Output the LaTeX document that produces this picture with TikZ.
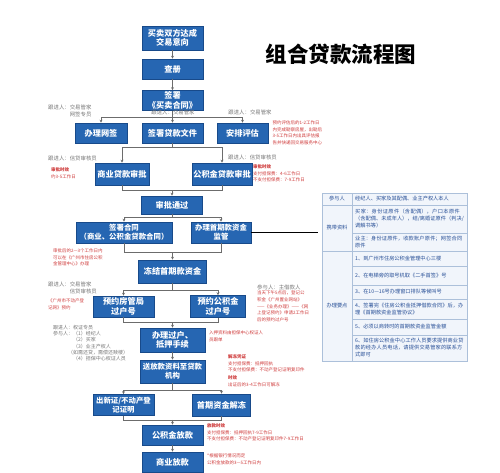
\documentclass[tikz,border=0pt]{standalone}
\usepackage{fontspec}
\setmainfont{Noto Sans CJK SC}
\XeTeXlinebreaklocale "zh"
\XeTeXlinebreakskip = 0pt plus 1pt
\usetikzlibrary{arrows.meta,positioning}
\definecolor{boxblue}{RGB}{38,102,178}
\definecolor{boxedge}{RGB}{24,74,138}
\definecolor{notered}{RGB}{206,58,58}
\definecolor{leadgray}{RGB}{118,118,118}
\definecolor{tblblue}{RGB}{38,78,150}
\definecolor{tblline}{RGB}{172,192,218}
\definecolor{tblfill}{RGB}{241,245,251}
\tikzset{
  flowbox/.style={draw=boxedge, fill=boxblue, text=white, align=center,
    font=\fontsize{8.2}{9.6}\selectfont\bfseries, inner sep=0pt, line width=0.6pt},
  smallbox/.style={flowbox, font=\fontsize{7.4}{9}\selectfont\bfseries},
  link/.style={draw=gray!85!black, line width=0.6pt},
  linkarr/.style={link, -{Stealth[length=3pt,width=3pt]}},
  lead/.style={text=leadgray, font=\fontsize{5.4}{6.6}\selectfont, align=left, inner sep=0pt},
  note/.style={text=notered, font=\fontsize{4.5}{6.6}\selectfont, align=left, inner sep=0pt},
  cell/.style={draw=tblline, fill=tblfill, line width=0.5pt},
  celltext/.style={text=tblblue, font=\fontsize{5.2}{7}\selectfont, align=left,
    inner sep=0pt, anchor=west, text width=109pt},
  cellhead/.style={text=tblblue, font=\fontsize{5.2}{7}\selectfont, inner sep=0pt}
}
\begin{document}
\begin{tikzpicture}[x=1pt, y=-1pt]
\useasboundingbox (0,0) rectangle (500,473);
\node[font=\fontsize{21.5}{24}\selectfont\bfseries] (title) at (341,54) {组合贷款流程图};
% main column
\node[flowbox, minimum width=61pt, minimum height=24pt] (deal) at (172.5,38) {买卖双方达成\\交易意向};
\node[flowbox, minimum width=61pt, minimum height=20pt] (chace) at (172.5,69) {查册};
\node[flowbox, minimum width=61pt, minimum height=20pt] (sign) at (172.5,100.5) {签署\\《买卖合同》};
\node[flowbox, minimum width=52pt, minimum height=20pt] (wangqian) at (101,133) {办理网签};
\node[flowbox, minimum width=61pt, minimum height=20pt] (daikuan) at (172.5,133) {签署贷款文件};
\node[flowbox, minimum width=51pt, minimum height=20pt] (pinggu) at (242.5,133) {安排评估};
\node[flowbox, minimum width=54pt, minimum height=22pt] (shangdai) at (122,174) {商业贷款审批};
\node[flowbox, minimum width=60pt, minimum height=22pt] (gjjdai) at (222,174) {公积金贷款审批};
\node[flowbox, minimum width=61pt, minimum height=18pt] (pass) at (172,205) {审批通过};
\node[smallbox, minimum width=96pt, minimum height=21pt] (hetong) at (124,232.5) {签署合同\\（商业、公积金贷款合同）};
\node[smallbox, minimum width=60pt, minimum height=21pt] (jianguan) at (221,232.5) {办理首期款资金\\监管};
\node[flowbox, minimum width=68pt, minimum height=23pt] (dongjie) at (172.5,271.5) {冻结首期款资金};
\node[flowbox, minimum width=61pt, minimum height=21pt] (fangguan) at (123.5,306.5) {预约房管局\\过户号};
\node[flowbox, minimum width=55pt, minimum height=22pt] (gjjguohu) at (218,306.5) {预约公积金\\过户号};
\node[flowbox, minimum width=65pt, minimum height=24pt] (guohu) at (172.5,340) {办理过户、\\抵押手续};
\node[smallbox, minimum width=65pt, minimum height=23pt] (song) at (172.5,371.5) {送放款资料至贷款\\机构};
\node[smallbox, minimum width=61pt, minimum height=21pt] (xinzheng) at (123.5,405) {出新证/不动产登\\记证明};
\node[flowbox, minimum width=58pt, minimum height=22pt] (jiedong) at (221.5,405) {首期资金解冻};
\node[flowbox, minimum width=61pt, minimum height=20pt] (gjjfk) at (172.5,435) {公积金放款};
\node[flowbox, minimum width=61pt, minimum height=20pt] (syfk) at (172.5,462) {商业放款};
% connectors
\draw[linkarr] (deal) -- (chace);
\draw[linkarr] (chace) -- (sign);
\draw[link] (sign.south) -- ++(0,6.5) coordinate (split1);
\draw[link] (split1 -| wangqian) -- (split1 -| pinggu);
\draw[linkarr] (split1 -| wangqian) -- (wangqian);
\draw[linkarr] (split1) -- (daikuan);
\draw[linkarr] (split1 -| pinggu) -- (pinggu);
\draw[link] (daikuan.south) -- ++(0,4) coordinate (merge1);
\draw[link] (merge1 -| shangdai) -- (merge1 -| gjjdai);
\draw[linkarr] (merge1 -| shangdai) -- (shangdai);
\draw[linkarr] (merge1 -| gjjdai) -- (gjjdai);
\draw[link] (shangdai.south) -- ++(0,5) coordinate (merge2) -- (merge2 -| gjjdai) -- (gjjdai.south);
\draw[linkarr] (merge2 -| pass) -- (pass);
\draw[link] (pass.south) -- ++(0,3) coordinate (split3);
\draw[link] (split3 -| hetong) -- (split3 -| jianguan);
\draw[linkarr] (split3 -| hetong) -- (hetong);
\draw[linkarr] (split3 -| jianguan) -- (jianguan);
\draw[link] (hetong.south) -- ++(0,9) coordinate (merge4) -- (merge4 -| jianguan) -- (jianguan.south);
\draw[linkarr] (merge4 -| dongjie) -- (dongjie);
\draw[link] (dongjie.south) -- ++(0,7) coordinate (split5);
\draw[link] (split5 -| fangguan) -- (split5 -| gjjguohu);
\draw[linkarr] (split5 -| fangguan) -- (fangguan);
\draw[linkarr] (split5 -| gjjguohu) -- (gjjguohu);
\draw[link] (fangguan.south) -- ++(0,5) coordinate (merge6) -- (merge6 -| gjjguohu) -- (gjjguohu.south);
\draw[linkarr] (merge6 -| guohu) -- (guohu);
\draw[linkarr] (guohu) -- (song);
\draw[link] (song.south) -- ++(0,7) coordinate (split7);
\draw[link] (split7 -| xinzheng) -- (split7 -| jiedong);
\draw[linkarr] (split7 -| xinzheng) -- (xinzheng);
\draw[linkarr] (split7 -| jiedong) -- (jiedong);
\draw[link] (xinzheng.south) -- ++(0,4) coordinate (merge8) -- (merge8 -| jiedong) -- (jiedong.south);
\draw[linkarr] (merge8 -| gjjfk) -- (gjjfk);
\draw[linkarr] (gjjfk) -- (syfk);
% follow-up people
\node[lead, anchor=north west] (leadwq) at (48,105) {跟进人：交易管家\\\phantom{跟进人：}网签专员};
\node[lead] (leaddk) at (173,112.5) {跟进人：交易管家};
\node[lead] (leadpg) at (250,112) {跟进人：交易管家};
\node[lead, anchor=west] (leadsd) at (48,158) {跟进人：信贷审核员};
\node[lead, anchor=west] (leadgd) at (228,157) {跟进人：信贷审核员};
\node[lead, anchor=north west] (leadyy) at (48,282) {跟进人：交易管家\\\phantom{跟进人：}信贷审核员};
\node[lead, anchor=west] (leadzj) at (257,287) {参与人：主借款人};
\node[lead, anchor=north west, font=\fontsize{5}{6.2}\selectfont] (leadgh) at (53,325)
  {跟进人：权证专员\\参与人：（1）经纪人\\\phantom{参与人：}（2）买家\\\phantom{参与人：}（3）业主产权人\\\phantom{参与人}（如需还贷，需偿还赎楼）\\\phantom{参与人：}（4）担保中心权证人员};
% red notes
\node[note, right=4pt of pinggu] (notepg) {预约评估后的1-2工作日\\内完成勘察房屋，出勘后\\3-5工作日内出具评估报\\告并快递回交易服务中心};
\node[note, anchor=west] (notesd) at (51,173.5) {{\bfseries 审批时效}\\约3-5工作日};
\node[note, anchor=north west] (notegd) at (253,164.5) {{\bfseries 审批时效}\\支付担保费：4-6工作日\\不支付担保费：7-9工作日};
\node[note, anchor=north west] (notelq) at (53,248.5) {审批后的2—3个工作日内\\可以在《广州市住房公积\\金管理中心》办理};
\node[note, anchor=north west] (notefg) at (48,298.5) {《广州市不动产登\\记网》预约};
\node[note, anchor=north west] (notegh) at (257,291) {当天下午5点后，登记公\\积金《广州置业网站》\\——《业务办理》——《网\\上登记预约》申请2工作日\\后的预约过户号};
\node[note, anchor=north west] (notegu) at (209,331) {入押资料由担保中心权证人\\员跟单};
\node[note, anchor=north west] (notesong) at (228,354.5) {{\bfseries 解冻凭证}\\支付担保费：抵押回执\\不支付担保费：不动产登记证明复印件\\[1.5pt]{\bfseries 时效}\\出证后的3-4工作日可解冻};
\node[note, anchor=north west] (notegf) at (207,423.5) {{\bfseries 放款时效}\\支付担保费：抵押回执7-9工作日\\不支付担保费：不动产登记证明复印件7-9工作日};
\node[note, anchor=north west] (notesy) at (207,453.5) {*根据银行情况而定\\公积金放款的3—5工作日内};
% table
\foreach \ya/\yb in {193/205, 205/251, 251/361}
  \draw[cell] (322,\ya) rectangle (352,\yb);
\foreach \ya/\yb in {193/205, 205/233, 233/251, 251/266, 266/285, 285/299, 299/319, 319/335, 335/361}
  \draw[cell] (352,\ya) rectangle (467,\yb);
\coordinate (tbllink) at (318,0);
\draw[line width=1pt] (jianguan.east) -- (jianguan.east -| tbllink);
\node[cellhead] (h1) at (337,199) {参与人};
\node[cellhead] (h2) at (337,228) {携带资料};
\node[cellhead] (h3) at (337,306) {办理要点};
\node[celltext] (c1) at (355,199) {经纪人、买家及其配偶、业主产权人本人};
\node[celltext] (c2) at (355,219) {买家：身份证原件（含配偶），户口本原件（含配偶、未成年人），结/离婚证原件（判决/调解书等）};
\node[celltext] (c3) at (355,242) {业主：身份证原件，收款账户原件；网签合同原件};
\node[celltext] (c4) at (355,258.5) {1、到广州市住房公积金管理中心三楼};
\node[celltext] (c5) at (355,275.5) {2、在电梯旁的取号机取《二手首签》号};
\node[celltext] (c6) at (355,292) {3、在10—16号办理窗口排队等候叫号};
\node[celltext] (c7) at (355,309) {4、签署完《住房公积金抵押借款合同》后，办理《首期款资金监管协议》};
\node[celltext] (c8) at (355,327) {5、必须以商转时的首期款资金监管金额};
\node[celltext] (c9) at (355,348) {6、如住房公积金中心工作人员要求提供商业贷款的经办人员电话，请提供交易管家的联系方式即可};
\end{tikzpicture}
\end{document}
